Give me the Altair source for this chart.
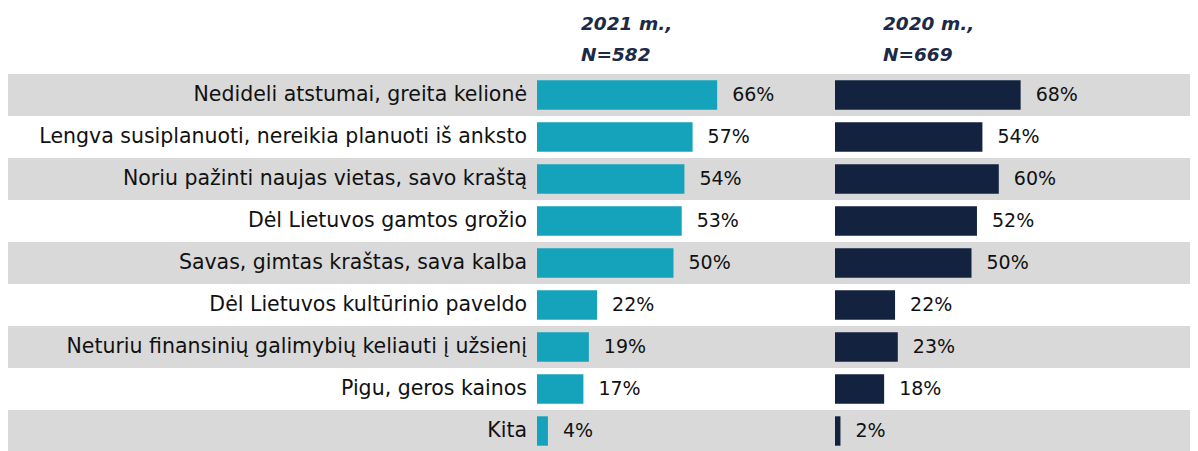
import altair as alt
import pandas as pd

categories = [
    "Nedideli atstumai, greita kelionė",
    "Lengva susiplanuoti, nereikia planuoti iš anksto",
    "Noriu pažinti naujas vietas, savo kraštą",
    "Dėl Lietuvos gamtos grožio",
    "Savas, gimtas kraštas, sava kalba",
    "Dėl Lietuvos kultūrinio paveldo",
    "Neturiu finansinių galimybių keliauti į užsienį",
    "Pigu, geros kainos",
    "Kita",
]
v2021 = [66, 57, 54, 53, 50, 22, 19, 17, 4]
v2020 = [68, 54, 60, 52, 50, 22, 23, 18, 2]
title2021 = ["2021 m.,", "N=582"]
title2020 = ["2020 m.,", "N=669"]

df = pd.DataFrame({"cat": categories, "v2021": v2021, "v2020": v2020})
df["idx"] = range(len(df))
df["l2021"] = [f"{v}%" for v in v2021]
df["l2020"] = [f"{v}%" for v in v2020]

H = 378
W1, W2, W3 = 529, 298, 355
PX = 2.73
FONT = "DejaVu Sans"
TEAL = "#14A3BA"
NAVY = "#13223F"
GRAY = "#D9D9D9"
TXT = "#111111"

Y = alt.Y("cat:N", sort=categories, axis=None,
          scale=alt.Scale(paddingInner=0, paddingOuter=0))

def bands(w):
    return alt.Chart(df).transform_filter("datum.idx % 2 == 0").mark_rect(color=GRAY).encode(
        y=Y, x=alt.value(0), x2=alt.value(w))

def ttl(lines, dx, color="#1C2A48"):
    return alt.TitleParams(text=lines[0], subtitle=lines[1], anchor="start", dx=dx,
                           color=color, subtitleColor=color,
                           font=FONT, fontSize=18.5, fontStyle="italic", fontWeight="bold",
                           subtitleFont=FONT, subtitleFontSize=18.5, subtitleFontStyle="italic",
                           subtitleFontWeight="bold", subtitlePadding=12.5, offset=10)

labels = alt.layer(
    bands(W1),
    alt.Chart(df).mark_text(align="right", baseline="middle", font=FONT, fontSize=20.5, color=TXT).encode(
        y=Y, x=alt.value(W1 - 10), text="cat:N"),
).properties(width=W1, height=H, title=ttl(["x", "x"], 0, color="white"))

def panel(field, lbl, color, w, title, dx):
    X = alt.X(f"{field}:Q", axis=None, scale=alt.Scale(domain=[0, w / PX], nice=False, zero=True))
    bars = alt.Chart(df).mark_bar(color=color, height=alt.RelativeBandSize(0.7)).encode(y=Y, x=X)
    txt = alt.Chart(df).mark_text(align="left", baseline="middle", dx=15, font=FONT, fontSize=19, color=TXT).encode(
        y=Y, x=X, text=f"{lbl}:N")
    return alt.layer(bands(w), bars, txt).properties(width=w, height=H, title=ttl(title, dx))

chart = alt.hconcat(
    labels,
    panel("v2021", "l2021", TEAL, W2, title2021, 44),
    panel("v2020", "l2020", NAVY, W3, title2020, 48),
    spacing=0,
).properties(padding={"left": 0, "right": 0, "top": 6, "bottom": 0}).configure_view(stroke=None).configure_concat(spacing=0)

chart.save("out.html", embed_options={"renderer": "svg", "actions": False})
